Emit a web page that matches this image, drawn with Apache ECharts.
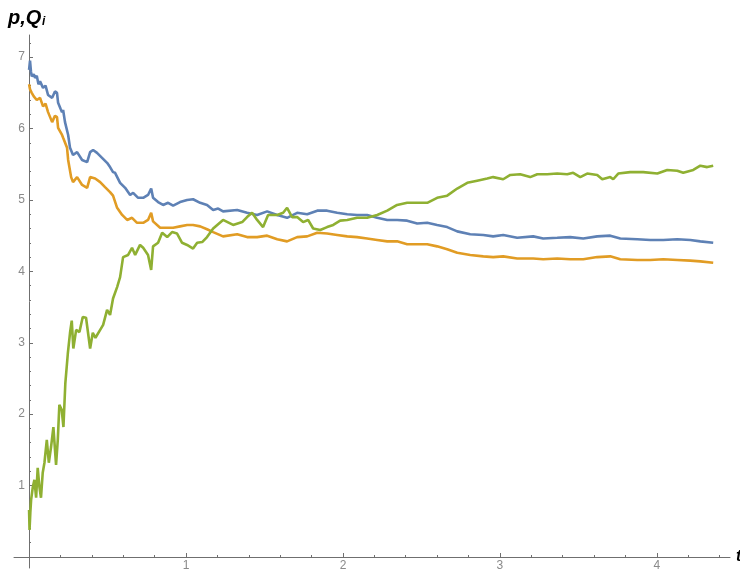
<!DOCTYPE html>
<html>
<head>
<meta charset="utf-8">
<script src="https://cdn.jsdelivr.net/npm/echarts@6/dist/echarts.min.js"></script>
<style>html,body{margin:0;padding:0;background:#fff}#c{width:740px;height:573px}</style>
</head>
<body>
<div id="c"></div>
<script>
// ---- data ----
const tP = [0,0.006,0.012,0.017,0.030,0.038,0.049,0.060,0.070,0.089,0.105,0.121,0.147,0.165,0.178,0.185,0.200,0.210,0.217,0.229,0.249,0.261,0.280,0.306,0.338,0.370,0.389,0.408,0.433,0.465,0.497,0.516,0.535,0.548,0.580,0.612,0.644,0.663,0.695,0.727,0.758,0.778,0.790,0.822,0.854,0.886,0.918,0.962,1.007,1.045,1.090,1.134,1.173,1.205,1.236,1.326,1.389,1.453,1.517,1.581,1.644,1.708,1.772,1.836,1.899,1.963,2.027,2.090,2.154,2.218,2.282,2.345,2.409,2.473,2.537,2.600,2.664,2.728,2.811,2.894,2.957,3.021,3.110,3.212,3.276,3.365,3.448,3.531,3.620,3.703,3.767,3.875,3.958,4.041,4.130,4.213,4.277,4.359];
const P  = [6.82,6.95,6.80,6.73,6.76,6.71,6.74,6.62,6.66,6.57,6.60,6.47,6.43,6.52,6.50,6.36,6.28,6.23,6.26,6.09,5.91,5.73,5.63,5.67,5.56,5.53,5.67,5.70,5.66,5.59,5.52,5.46,5.39,5.38,5.24,5.17,5.07,5.10,5.03,5.03,5.07,5.16,5.03,4.97,4.93,4.96,4.92,4.97,5.00,5.01,4.96,4.93,4.86,4.88,4.84,4.86,4.82,4.79,4.84,4.79,4.75,4.82,4.80,4.85,4.85,4.82,4.80,4.79,4.79,4.75,4.72,4.72,4.71,4.67,4.68,4.65,4.62,4.56,4.52,4.51,4.49,4.51,4.47,4.49,4.46,4.47,4.48,4.46,4.49,4.50,4.46,4.45,4.44,4.44,4.45,4.44,4.42,4.40];

const tQ1 = [0,0.006,0.017,0.030,0.049,0.070,0.089,0.105,0.121,0.147,0.165,0.178,0.185,0.210,0.217,0.242,0.249,0.268,0.280,0.306,0.338,0.370,0.389,0.421,0.453,0.484,0.516,0.535,0.561,0.593,0.625,0.656,0.688,0.727,0.758,0.778,0.790,0.835,0.880,0.918,0.962,1.007,1.045,1.090,1.134,1.173,1.236,1.326,1.389,1.453,1.517,1.581,1.644,1.708,1.772,1.836,1.899,1.963,2.027,2.090,2.154,2.218,2.282,2.345,2.409,2.473,2.537,2.600,2.664,2.728,2.811,2.894,2.957,3.021,3.110,3.212,3.276,3.365,3.448,3.531,3.620,3.703,3.767,3.875,3.958,4.041,4.130,4.213,4.277,4.359];
const Q1  = [6.62,6.55,6.50,6.45,6.40,6.43,6.31,6.35,6.23,6.09,6.18,6.16,6.01,5.91,5.87,5.73,5.56,5.32,5.25,5.32,5.21,5.17,5.32,5.30,5.25,5.18,5.11,5.06,4.89,4.79,4.72,4.75,4.68,4.68,4.72,4.82,4.70,4.61,4.61,4.61,4.63,4.65,4.65,4.63,4.59,4.55,4.49,4.52,4.48,4.48,4.50,4.45,4.42,4.48,4.49,4.54,4.53,4.51,4.49,4.48,4.46,4.44,4.42,4.42,4.38,4.38,4.38,4.35,4.31,4.26,4.23,4.21,4.20,4.21,4.18,4.18,4.17,4.18,4.17,4.17,4.20,4.21,4.17,4.16,4.16,4.17,4.16,4.15,4.14,4.12];

const tQ2 = [0,0.003,0.008,0.013,0.024,0.034,0.045,0.055,0.066,0.076,0.087,0.098,0.113,0.126,0.140,0.155,0.172,0.183,0.193,0.208,0.219,0.231,0.247,0.261,0.272,0.282,0.300,0.321,0.342,0.363,0.389,0.406,0.423,0.453,0.472,0.497,0.516,0.535,0.561,0.580,0.599,0.631,0.656,0.676,0.707,0.727,0.758,0.778,0.790,0.822,0.848,0.880,0.911,0.943,0.975,1.007,1.045,1.071,1.103,1.134,1.173,1.236,1.300,1.358,1.389,1.421,1.453,1.491,1.523,1.581,1.619,1.644,1.676,1.708,1.746,1.778,1.810,1.855,1.899,1.938,1.982,2.027,2.090,2.154,2.218,2.282,2.345,2.409,2.473,2.537,2.600,2.664,2.728,2.792,2.855,2.919,2.957,3.021,3.066,3.129,3.193,3.238,3.301,3.365,3.429,3.467,3.512,3.556,3.620,3.652,3.703,3.722,3.754,3.830,3.913,4.003,4.066,4.130,4.168,4.232,4.277,4.321,4.359];
const Q2  = [0.66,0.38,0.62,0.80,0.98,1.08,0.83,1.25,0.98,0.83,1.18,1.32,1.64,1.32,1.54,1.82,1.29,1.64,2.13,2.06,1.82,2.43,2.85,3.14,3.31,2.92,3.18,3.15,3.36,3.35,2.92,3.14,3.07,3.18,3.25,3.46,3.39,3.62,3.78,3.92,4.20,4.23,4.33,4.23,4.37,4.33,4.23,4.02,4.35,4.40,4.54,4.48,4.55,4.53,4.40,4.37,4.32,4.40,4.41,4.48,4.60,4.72,4.65,4.69,4.76,4.82,4.72,4.62,4.79,4.79,4.82,4.89,4.76,4.76,4.69,4.72,4.60,4.58,4.62,4.65,4.71,4.72,4.75,4.75,4.79,4.85,4.93,4.96,4.96,4.96,5.03,5.06,5.16,5.24,5.27,5.30,5.32,5.29,5.35,5.36,5.32,5.36,5.36,5.37,5.36,5.38,5.32,5.37,5.35,5.29,5.32,5.29,5.37,5.39,5.39,5.37,5.42,5.41,5.38,5.42,5.48,5.46,5.48];

const xMajor = [1, 2, 3, 4];
const xMinor = [0.2,0.4,0.6,0.8,1.2,1.4,1.6,1.8,2.2,2.4,2.6,2.8,3.2,3.4,3.6,3.8,4.2,4.4];
const yMajor = [1, 2, 3, 4, 5, 6, 7];
const yMinor = [0.2,0.4,0.6,0.8,1.2,1.4,1.6,1.8,2.2,2.4,2.6,2.8,3.2,3.4,3.6,3.8,4.2,4.4,4.6,4.8,5.2,5.4,5.6,5.8,6.2,6.4,6.6,6.8,7.2];

const colors = ['#5E81B5', '#E19C24', '#8FB032'];
const zip = (t, v) => t.map((x, i) => [x, v[i]]);

const axisColor = '#6f6f6f';
const labelColor = '#8a8a8a';
const X_MIN = -0.096, X_MAX = 4.466, Y_MIN = -0.154, Y_MAX = 7.31;
// grid: left 14, right 10 (width 716) ; top 35, bottom 5 (height 533)
// axes drawn through the origin by offsetting them from the grid edges
const X_OFF = -11;   // x axis line moved up from grid bottom to t-axis (y = 0)
const Y_OFF = -15;   // y axis line moved right from grid left to x = 0

const chart = echarts.init(document.getElementById('c'), null, {renderer: 'canvas'});
chart.setOption({
  animation: false,
  backgroundColor: '#fff',
  grid: {left: 14, right: 10, top: 35, bottom: 5, containLabel: false, outerBoundsMode: 'none'},
  xAxis: [{
    type: 'value', min: X_MIN, max: X_MAX, position: 'bottom', offset: X_OFF,
    axisLine: {show: true, onZero: false, lineStyle: {color: axisColor, width: 1}},
    axisTick: {show: true, inside: true, length: 4, customValues: xMajor, lineStyle: {color: axisColor}},
    axisLabel: {show: true, customValues: xMajor, color: labelColor, fontSize: 12, fontFamily: 'Liberation Sans', margin: 3},
    splitLine: {show: false}
  }, {
    type: 'value', min: X_MIN, max: X_MAX, position: 'bottom', offset: X_OFF,
    axisLine: {show: false, onZero: false},
    axisTick: {show: true, inside: true, length: 2, customValues: xMinor, lineStyle: {color: axisColor}},
    axisLabel: {show: false},
    splitLine: {show: false}
  }],
  yAxis: [{
    type: 'value', min: Y_MIN, max: Y_MAX, position: 'left', offset: Y_OFF,
    axisLine: {show: true, onZero: false, lineStyle: {color: axisColor, width: 1}},
    axisTick: {show: true, inside: true, length: 4, customValues: yMajor, lineStyle: {color: axisColor}},
    axisLabel: {show: true, customValues: yMajor, color: labelColor, fontSize: 12, fontFamily: 'Liberation Sans', margin: 4},
    splitLine: {show: false}
  }, {
    type: 'value', min: Y_MIN, max: Y_MAX, position: 'left', offset: Y_OFF,
    axisLine: {show: false, onZero: false},
    axisTick: {show: true, inside: true, length: 2, customValues: yMinor, lineStyle: {color: axisColor}},
    axisLabel: {show: false},
    splitLine: {show: false}
  }],
  graphic: [
    {type: 'text', left: 8, top: 8, style: {text: 'p,Q', font: 'italic bold 20px "Liberation Sans"', fill: '#000'}},
    {type: 'text', left: 42, top: 16, style: {text: 'i', font: 'italic bold 12px "Liberation Sans"', fill: '#000'}},
    {type: 'text', left: 736, top: 549, style: {text: 't', font: 'italic bold 16px "Liberation Sans"', fill: '#000'}}
  ],
  series: [
    {type: 'line', data: zip(tP, P), showSymbol: false, symbol: 'none', lineStyle: {color: colors[0], width: 2.6}, itemStyle: {color: colors[0]}},
    {type: 'line', data: zip(tQ1, Q1), showSymbol: false, symbol: 'none', lineStyle: {color: colors[1], width: 2.6}, itemStyle: {color: colors[1]}},
    {type: 'line', data: zip(tQ2, Q2), showSymbol: false, symbol: 'none', lineStyle: {color: colors[2], width: 2.6}, itemStyle: {color: colors[2]}}
  ]
});
</script>
</body>
</html>
